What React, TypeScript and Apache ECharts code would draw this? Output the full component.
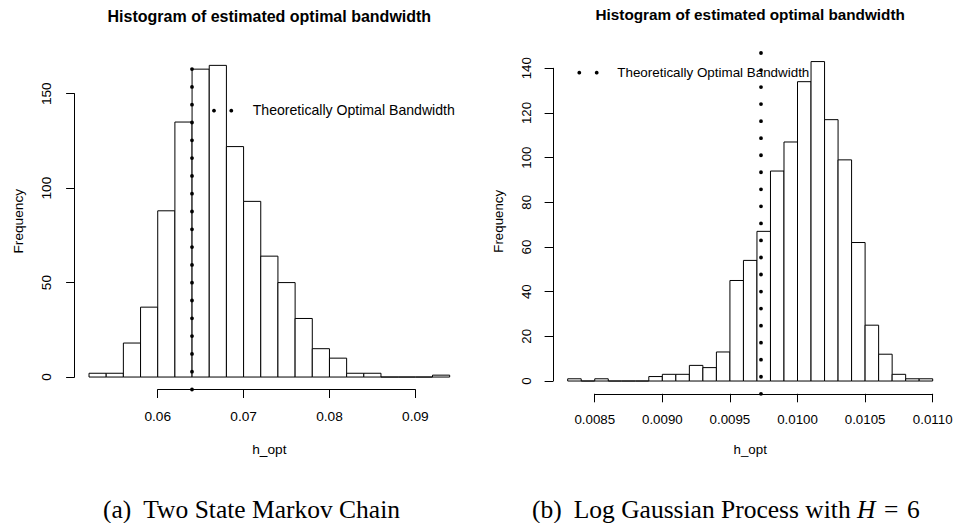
import React, { useEffect, useRef } from 'react';
import * as echarts from 'echarts';

// ---------------- data ----------------
const leftBinStart = 0.052;
const leftBinWidth = 0.002;
const leftCounts = [2, 2, 18, 37, 88, 135, 163, 165, 122, 93, 64, 50, 31, 15, 10, 2, 2, 0, 0, 0, 1];
const leftOptimal = 0.064;
const leftXTicks = [0.06, 0.07, 0.08, 0.09];
const leftYTicks = [0, 50, 100, 150];

const rightBinStart = 0.0083;
const rightBinWidth = 0.0001;
const rightCounts = [1, 0, 1, 0, 0, 0, 2, 3, 3, 7, 6, 13, 45, 54, 67, 94, 107, 134, 143, 117, 99, 62, 25, 12, 3, 1, 1];
const rightOptimal = 0.009727;
const rightXTicks = [0.0085, 0.009, 0.0095, 0.01, 0.0105, 0.011];
const rightYTicks = [0, 20, 40, 60, 80, 100, 120, 140];

const titleText = 'Histogram of estimated optimal bandwidth';
const legendText = 'Theoretically Optimal Bandwidth';
const xName = 'h_opt';
const yName = 'Frequency';
const captionA = ['(a)', 'Two State Markov Chain'];
const captionB = ['(b)', 'Log Gaussian Process with', 'H', '=', '6'];

// ---------------- styling / layout ----------------
const SANS = "'Liberation Sans', Arial, Helvetica, sans-serif";
const SERIF = "'Liberation Serif', 'Times New Roman', Times, serif";

type Panel = {
  binStart: number; binWidth: number; counts: number[]; optimal: number;
  xTicks: number[]; yTicks: number[]; decimals: number;
  box: { x0: number; x1: number; y0: number; y1: number };
  fs: number; titleFs: number; titleY: number; dotGap: number;
  labelMarginX: number; labelMarginY: number; nameGapX: number; nameGapY: number;
  legendY: number; legendTextY: number; legendDotX: number[]; legendTextX: number; legendFs: number;
};

const panels: Panel[] = [
  {
    binStart: leftBinStart, binWidth: leftBinWidth, counts: leftCounts, optimal: leftOptimal,
    xTicks: leftXTicks, yTicks: leftYTicks, decimals: 2,
    box: { x0: 74.6, x1: 464.1, y0: 52.9, y1: 389.5 },
    fs: 13.7, titleFs: 16, titleY: 16.8, dotGap: 17.79,
    labelMarginX: 20.3, labelMarginY: 21, nameGapX: 53, nameGapY: 49.2,
    legendY: 110.7, legendTextY: 110, legendDotX: [214, 231.3], legendTextX: 252.7, legendFs: 14.1,
  },
  {
    binStart: rightBinStart, binWidth: rightBinWidth, counts: rightCounts, optimal: rightOptimal,
    xTicks: rightXTicks, yTicks: rightYTicks, decimals: 4,
    box: { x0: 553.1, x1: 947.3, y0: 48.8, y1: 393.8 },
    fs: 13.3, titleFs: 15.3, titleY: 14.6, dotGap: 17.03,
    labelMarginX: 18.9, labelMarginY: 20.4, nameGapX: 48.7, nameGapY: 47.9,
    legendY: 72.7, legendTextY: 72, legendDotX: [579.3, 596.7], legendTextX: 617.3, legendFs: 13.4,
  },
];

function buildOption() {
  const grid: any[] = [];
  const xAxis: any[] = [];
  const yAxis: any[] = [];
  const series: any[] = [];
  const title: any[] = [];
  const graphic: any[] = [];

  panels.forEach((c) => {
    const n = c.counts.length;
    const lo = c.binStart;
    const hi = c.binStart + n * c.binWidth;
    const ext = (hi - lo) * 0.04;
    const xd = [lo - ext, hi + ext];
    const maxC = Math.max(...c.counts);
    const yd = [-0.04 * maxC, 1.04 * maxC];
    const { x0, x1, y0, y1 } = c.box;
    const px = (v: number) => x0 + ((v - xd[0]) / (xd[1] - xd[0])) * (x1 - x0);
    const py = (v: number) => y1 - ((v - yd[0]) / (yd[1] - yd[0])) * (y1 - y0);
    const xt0 = c.xTicks[0];
    const xt1 = c.xTicks[c.xTicks.length - 1];
    const yt0 = c.yTicks[0];
    const yt1 = c.yTicks[c.yTicks.length - 1];
    const xInt = +(c.xTicks[1] - c.xTicks[0]).toPrecision(6);
    const yInt = c.yTicks[1] - c.yTicks[0];
    const b = grid.length;

    grid.push(
      { left: x0, top: y0, width: x1 - x0, height: y1 - y0, outerBoundsMode: 'none', containLabel: false },
      { left: px(xt0), top: y0, width: px(xt1) - px(xt0), height: y1 - y0, outerBoundsMode: 'none', containLabel: false },
      { left: x0, top: py(yt1), width: x1 - x0, height: py(yt0) - py(yt1), outerBoundsMode: 'none', containLabel: false },
    );

    const nameStyle = { fontFamily: SANS, fontSize: c.fs, color: '#000' };
    const hideParts = {
      axisLine: { show: false }, axisTick: { show: false }, axisLabel: { show: false }, splitLine: { show: false },
    };

    // plot-region axes (only names shown)
    xAxis.push({
      gridIndex: b, type: 'value', min: xd[0], max: xd[1], ...hideParts,
      name: xName, nameLocation: 'middle', nameGap: c.nameGapX, nameTextStyle: nameStyle,
    });
    yAxis.push({
      gridIndex: b, type: 'value', min: yd[0], max: yd[1], ...hideParts,
      name: yName, nameLocation: 'middle', nameGap: c.nameGapY, nameRotate: 90, nameTextStyle: nameStyle,
    });
    // x axis drawn over tick range
    xAxis.push({
      gridIndex: b + 1, type: 'value', min: xt0, max: xt1, interval: xInt, position: 'bottom',
      axisLine: { show: true, onZero: false, lineStyle: { color: '#000', width: 1 } },
      axisTick: { show: true, length: 8.5, inside: false, lineStyle: { color: '#000', width: 1 } },
      axisLabel: {
        show: true, margin: c.labelMarginX, fontFamily: SANS, fontSize: c.fs, color: '#000',
        showMinLabel: true, showMaxLabel: true, hideOverlap: false,
        formatter: (v: number) => v.toFixed(c.decimals),
      },
      splitLine: { show: false },
    });
    yAxis.push({ gridIndex: b + 1, type: 'value', show: false, min: yd[0], max: yd[1] });
    // y axis drawn over tick range
    xAxis.push({ gridIndex: b + 2, type: 'value', show: false, min: xd[0], max: xd[1] });
    yAxis.push({
      gridIndex: b + 2, type: 'value', min: yt0, max: yt1, interval: yInt, position: 'left',
      axisLine: { show: true, onZero: false, lineStyle: { color: '#000', width: 1 } },
      axisTick: { show: true, length: 8.5, inside: false, lineStyle: { color: '#000', width: 1 } },
      axisLabel: {
        show: true, rotate: 90, margin: c.labelMarginY, fontFamily: SANS, fontSize: c.fs, color: '#000',
        showMinLabel: true, showMaxLabel: true, hideOverlap: false,
      },
      splitLine: { show: false },
    });

    const binData = c.counts.map((cnt, i) => [lo + i * c.binWidth, lo + (i + 1) * c.binWidth, cnt]);
    series.push({
      type: 'custom',
      xAxisIndex: b, yAxisIndex: b,
      silent: true,
      clip: false,
      encode: { x: [0, 1], y: 2 },
      data: binData,
      renderItem: (_p: any, api: any) => {
        const tl = api.coord([api.value(0), api.value(2)]);
        const br = api.coord([api.value(1), 0]);
        return {
          type: 'polygon',
          shape: { points: [[tl[0], br[1]], [tl[0], tl[1]], [br[0], tl[1]], [br[0], br[1]]] },
          style: { fill: '#fff', stroke: '#000', lineWidth: 1 },
        };
      },
    });
    series.push({
      type: 'line',
      name: legendText,
      xAxisIndex: b, yAxisIndex: b,
      data: [],
      silent: true,
      markLine: {
        silent: true,
        precision: 8,
        symbol: ['none', 'none'],
        label: { show: false },
        lineStyle: { color: '#000', width: 3.8, type: [0.01, c.dotGap], cap: 'round' },
        data: [{ xAxis: c.optimal }],
        animation: false,
      },
    });

    title.push({
      text: titleText,
      left: (x0 + x1) / 2,
      top: c.titleY,
      textAlign: 'center',
      textVerticalAlign: 'middle',
      padding: 0,
      textStyle: { fontFamily: SANS, fontWeight: 'bold', fontSize: c.titleFs, color: '#000' },
    });

    // legend (dotted line key + label)
    c.legendDotX.forEach((dx) => {
      graphic.push({ type: 'circle', z: 100, shape: { cx: dx, cy: c.legendY, r: 1.9 }, style: { fill: '#000' }, silent: true });
    });
    graphic.push({
      type: 'text', z: 100, x: c.legendTextX, y: c.legendTextY, silent: true,
      style: {
        text: legendText, fill: '#000', fontFamily: SANS, fontSize: c.legendFs,
        align: 'left', verticalAlign: 'middle', textAlign: 'left', textVerticalAlign: 'middle',
      },
    });
  });

  const capFs = 25.5;
  const capY = 509.7;
  const capStyle = (text: string) => ({
    text, fill: '#000', fontFamily: SERIF, fontSize: capFs,
    align: 'left', verticalAlign: 'middle', textAlign: 'left', textVerticalAlign: 'middle',
  });
  graphic.push({ type: 'text', x: 103, y: capY, silent: true, style: capStyle(captionA[0]) });
  graphic.push({ type: 'text', x: 143.3, y: capY, silent: true, style: capStyle(captionA[1]) });
  graphic.push({ type: 'text', x: 532, y: capY, silent: true, style: capStyle(captionB[0]) });
  graphic.push({
    type: 'text', x: 573.7, y: capY, silent: true,
    style: {
      ...capStyle(''),
      text: `{n|${captionB[1]}}{i|${captionB[2]}}{e|${captionB[3]}}{n|${captionB[4]}}`,
      rich: {
        n: { fontFamily: SERIF, fontSize: capFs, fill: '#000' },
        i: { fontFamily: SERIF, fontSize: capFs, fontStyle: 'italic', fill: '#000', padding: [0, 8.5, 0, 6.5] },
        e: { fontFamily: SERIF, fontSize: capFs, fill: '#000', padding: [0, 8.5, 0, 0] },
      },
    },
  });

  return {
    animation: false,
    backgroundColor: '#fff',
    title,
    grid,
    xAxis,
    yAxis,
    series,
    graphic,
  };
}

export default function App() {
  const ref = useRef<HTMLDivElement>(null);
  useEffect(() => {
    if (!ref.current) return;
    const chart = echarts.init(ref.current, undefined, { renderer: 'svg' });
    chart.setOption(buildOption() as any);
    return () => chart.dispose();
  }, []);
  return (
    <div
      ref={ref}
      style={{ position: 'absolute', left: 0, top: 0, width: 954, height: 523, background: '#fff' }}
    />
  );
}
